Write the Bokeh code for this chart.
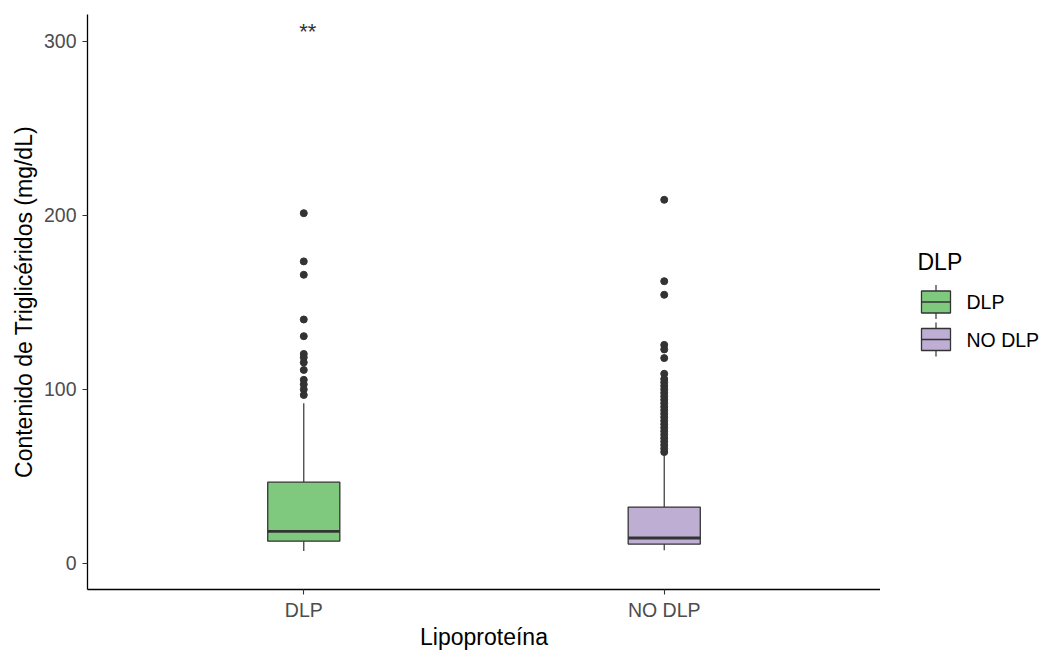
from bokeh.plotting import figure
from bokeh.layouts import row
from bokeh.models import Range1d, FixedTicker
from bokeh.embed import file_html
from bokeh.resources import INLINE
from bokeh.core.properties import value

# Box summaries of triglyceride content (mg/dL) per lipoprotein group
groups = ["DLP", "NO DLP"]
box_colors = ["#7FC97F", "#BEAED4"]
whisker_low = [7.1, 7.5]
q1 = [12.8, 11.1]
median = [18.4, 14.6]
q3 = [46.7, 32.4]
whisker_high = [92.0, 62.0]
outliers_dlp = [201.3, 173.6, 165.9, 140.2, 130.6, 120.4, 118.4, 115.5, 111.2,
                105.5, 102.9, 100.0, 96.8]
outliers_nodlp = [209.0, 162.2, 154.4, 125.6, 123.0, 118.0, 109.0, 106.0, 104.0,
                  102.0, 100.0, 98.0, 96.0, 94.0, 92.0, 90.0, 88.0, 86.0, 84.0,
                  82.0, 80.0, 78.0, 76.0, 74.0, 72.0, 70.0, 68.0, 66.0, 64.0]
y_ticks = [0, 100, 200, 300]
sig_label = "**"
sig_y = 306.0

FONT = "Liberation Sans"
DARK = "#333333"
BOX_W = 0.2
TICK_FS = "19.5px"
TITLE_FS = "23px"

xs = [i + 1 for i in range(len(groups))]

p = figure(width=880, height=653, output_backend="svg", toolbar_location=None,
           x_range=Range1d(0.4, 2.6), y_range=Range1d(-15, 315.5),
           min_border_left=87, min_border_right=0, min_border_top=14,
           min_border_bottom=64)
p.xgrid.visible = False
p.ygrid.visible = False
p.outline_line_color = None
p.background_fill_color = "white"
p.border_fill_color = "white"

# axes
p.xaxis.ticker = FixedTicker(ticks=xs)
p.xaxis.major_label_overrides = {x: g for x, g in zip(xs, groups)}
p.yaxis.ticker = FixedTicker(ticks=y_ticks)
p.xaxis.axis_label = "Lipoproteína"
p.yaxis.axis_label = "Contenido de Triglicéridos (mg/dL)"
for ax in (p.xaxis, p.yaxis):
    ax.axis_line_color = "black"
    ax.axis_line_width = 1.3
    ax.major_tick_line_color = DARK
    ax.major_tick_line_width = 1.1
    ax.major_tick_in = 0
    ax.major_tick_out = 5
    ax.minor_tick_line_color = None
    ax.major_label_text_font = FONT
    ax.major_label_text_font_size = TICK_FS
    ax.major_label_text_color = "#4D4D4D"
    ax.axis_label_text_font = FONT
    ax.axis_label_text_font_size = TITLE_FS
    ax.axis_label_text_font_style = "normal"
    ax.axis_label_text_color = "black"
p.xaxis.major_label_standoff = 4
p.xaxis.axis_label_standoff = 0
p.yaxis.major_label_standoff = 6
p.yaxis.axis_label_standoff = 4

# whiskers
p.segment(x0=xs, y0=q3, x1=xs, y1=whisker_high, line_color=DARK, line_width=1.2)
p.segment(x0=xs, y0=whisker_low, x1=xs, y1=q1, line_color=DARK, line_width=1.2)

# boxes and medians
p.vbar(x=xs, width=BOX_W, bottom=q1, top=q3, fill_color=box_colors,
       line_color=DARK, line_width=1.3)
p.segment(x0=[x - BOX_W / 2 for x in xs], y0=median,
          x1=[x + BOX_W / 2 for x in xs], y1=median,
          line_color=DARK, line_width=2.8)

# outliers
out_x = [xs[0]] * len(outliers_dlp) + [xs[1]] * len(outliers_nodlp)
out_y = outliers_dlp + outliers_nodlp
p.scatter(x=out_x, y=out_y, size=7, fill_color=DARK, line_color=DARK)

# significance mark
p.text(x=[xs[0]], y=[sig_y], text=[sig_label], x_offset=4,
       text_align="center", text_baseline="middle",
       text_font=value(FONT), text_font_size="22px", text_color=DARK)

# legend panel; its frame spans the same rows as the main panel and its
# ranges are page pixels
lg = figure(width=163, height=653, output_backend="svg", toolbar_location=None,
            x_range=Range1d(880, 1043), y_range=Range1d(589, 14),
            x_axis_type=None, y_axis_type=None,
            min_border_left=0, min_border_right=0, min_border_top=14,
            min_border_bottom=64)
lg.outline_line_color = None
lg.background_fill_color = "white"
lg.border_fill_color = "white"

key_left, key_w = 921.0, 29.0
key_top0, key_step, key_h, key_whisk = 301.5, 37.5, 22.0, 6.0
centers = [key_top0 + i * key_step for i in range(len(groups))]
lg.segment(x0=[key_left + key_w / 2] * len(groups),
           y0=[c - key_h / 2 - key_whisk for c in centers],
           x1=[key_left + key_w / 2] * len(groups),
           y1=[c + key_h / 2 + key_whisk for c in centers],
           line_color=DARK, line_width=1.2)
lg.quad(left=key_left, right=key_left + key_w,
        top=[c - key_h / 2 for c in centers],
        bottom=[c + key_h / 2 for c in centers],
        fill_color=box_colors, line_color=DARK, line_width=1.3)
lg.segment(x0=[key_left] * len(groups), y0=centers,
           x1=[key_left + key_w] * len(groups), y1=centers,
           line_color=DARK, line_width=1.6)
lg.text(x=[key_left + 45] * len(groups), y=centers, text=groups,
        text_align="left", text_baseline="middle",
        text_font=value(FONT), text_font_size=TICK_FS, text_color="black")
lg.text(x=[917], y=[261], text=["DLP"], text_align="left",
        text_baseline="middle", text_font=value(FONT),
        text_font_size=TITLE_FS, text_color="black")

layout = row(p, lg, spacing=0)
open("out.html", "w").write(file_html(layout, INLINE))
